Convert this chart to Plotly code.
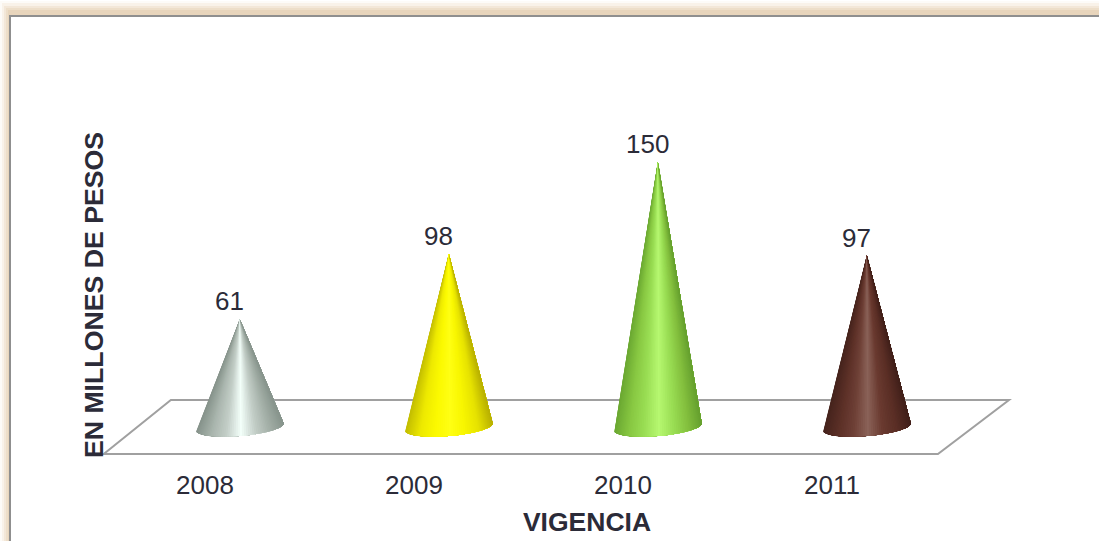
import math
import plotly.graph_objects as go

W, H = 1099, 541
L, R, T, B = 100, 25, 125, 76

categories = ["2008", "2009", "2010", "2011"]
values = [61, 98, 150, 97]
shades = [
    ["#86938b", "#a9b5ad", "#c3cec7", "#f3fffa", "#c3cec7", "#a3afa7", "#87948c"],
    ["#c4be00", "#eeea00", "#fbf900", "#ffff14", "#f8f600", "#e6e200", "#b8b000"],
    ["#6ba832", "#88c842", "#9ade54", "#b6f870", "#9ade54", "#84c03e", "#659f2e"],
    ["#46241d", "#5c3027", "#6e4036", "#8a6258", "#6a3a30", "#5a2e25", "#41201a"],
]
x_title = "VIGENCIA"
y_title = "EN MILLONES DE PESOS"
text_color = "#2b2b38"
font = "Liberation Sans, Arial, sans-serif"

x_range = [-0.502, 4.158]
y_range = [-21.5, 170.9]
depth = 0.167          # 3D offset of a cone from its tick
half_width = 0.21      # cone base half width, in category units
base_b = 5.1           # cone base ellipse minor radius, in value units
base_tilt = 2.0        # base ellipse tilt, in value units
n_strips = 64


def mix(c1, c2, t):
    a = [int(c1[i:i + 2], 16) for i in (1, 3, 5)]
    b = [int(c2[i:i + 2], 16) for i in (1, 3, 5)]
    return "rgb(%d,%d,%d)" % tuple(round(p + (q - p) * t) for p, q in zip(a, b))


def shade(stops, t):
    s = t * (len(stops) - 1)
    i = min(int(s), len(stops) - 2)
    return mix(stops[i], stops[i + 1], s - i)


fig = go.Figure()

for i, (v, stops) in enumerate(zip(values, shades)):
    cx = i + depth
    arc_x, arc_y = [], []
    for j in range(n_strips + 1):
        a = math.pi * (1 - j / n_strips)
        arc_x.append(cx + half_width * math.cos(a))
        arc_y.append(base_tilt * math.cos(a) - base_b * math.sin(a))
    # painted left to right, each polygon covering everything to its right
    for k in range(n_strips):
        col = shade(stops, (arc_x[k] - cx + half_width) / (2 * half_width))
        fig.add_trace(go.Scatter(
            x=[cx] + arc_x[k:] + [cx], y=[v] + arc_y[k:] + [v],
            mode="lines", fill="toself", fillcolor=col,
            line=dict(width=0), hoverinfo="skip", showlegend=False,
        ))


def px(x):
    return (x - L) / (W - L - R)


def py(y):
    return 1 - (y - T) / (H - T - B)


shapes = []
# soft cream frame: layered from outside in, open to the right and bottom
for ix, iy, col in [(0, 1, "#fdfbf8"), (2, 3, "#f9f2e9"), (4, 6, "#f3e7d8"),
                    (6, 8, "#eddec9"), (8, 10, "#e8d5bc")]:
    shapes.append(dict(type="rect", xref="paper", yref="paper", layer="below",
                       x0=px(ix), x1=px(W + 20), y0=py(iy), y1=py(H + 20),
                       fillcolor=col, line=dict(width=0)))
shapes.append(dict(type="rect", xref="paper", yref="paper", layer="below",
                   x0=px(10), x1=px(W + 20), y0=py(16), y1=py(H + 20),
                   fillcolor="white", line=dict(color="#8f8f8f", width=2)))
# floor of the 3D chart
shapes.append(dict(
    type="path", xref="x", yref="y", layer="below",
    path="M -0.484 -15.3 L 3.507 -15.3 L 3.847 15.3 L -0.163 15.3 Z",
    line=dict(color="#a0a0a0", width=2), fillcolor="rgba(0,0,0,0)",
))

annotations = [
    dict(x=i + depth, y=v, text=str(v), showarrow=False, xshift=-10, yshift=18,
         xanchor="center", yanchor="middle", font=dict(size=26, color=text_color, family=font))
    for i, v in enumerate(values)
]

fig.update_layout(
    width=W, height=H, margin=dict(l=L, r=R, t=T, b=B, autoexpand=False),
    paper_bgcolor="white", plot_bgcolor="rgba(0,0,0,0)",
    shapes=shapes, annotations=annotations, showlegend=False,
    font=dict(family=font, color=text_color),
    xaxis=dict(range=x_range, tickmode="array", tickvals=list(range(4)), ticktext=categories,
               showgrid=False, zeroline=False, showline=False, ticks="",
               tickfont=dict(size=26, color=text_color), automargin=True, ticklabelstandoff=2,
               title=dict(text=x_title, font=dict(size=26.5, color=text_color, family=font, weight="bold"), standoff=13)),
    yaxis=dict(range=y_range, showgrid=False, zeroline=False, showline=False, ticks="",
               showticklabels=False, anchor="free", position=0.0287,
               title=dict(text=y_title, font=dict(size=26.7, color=text_color, family=font, weight="bold"))),
)

fig.write_html("out.html", config=dict(displayModeBar=False),
               post_script="document.body.style.margin='0';document.body.style.overflow='hidden';")
